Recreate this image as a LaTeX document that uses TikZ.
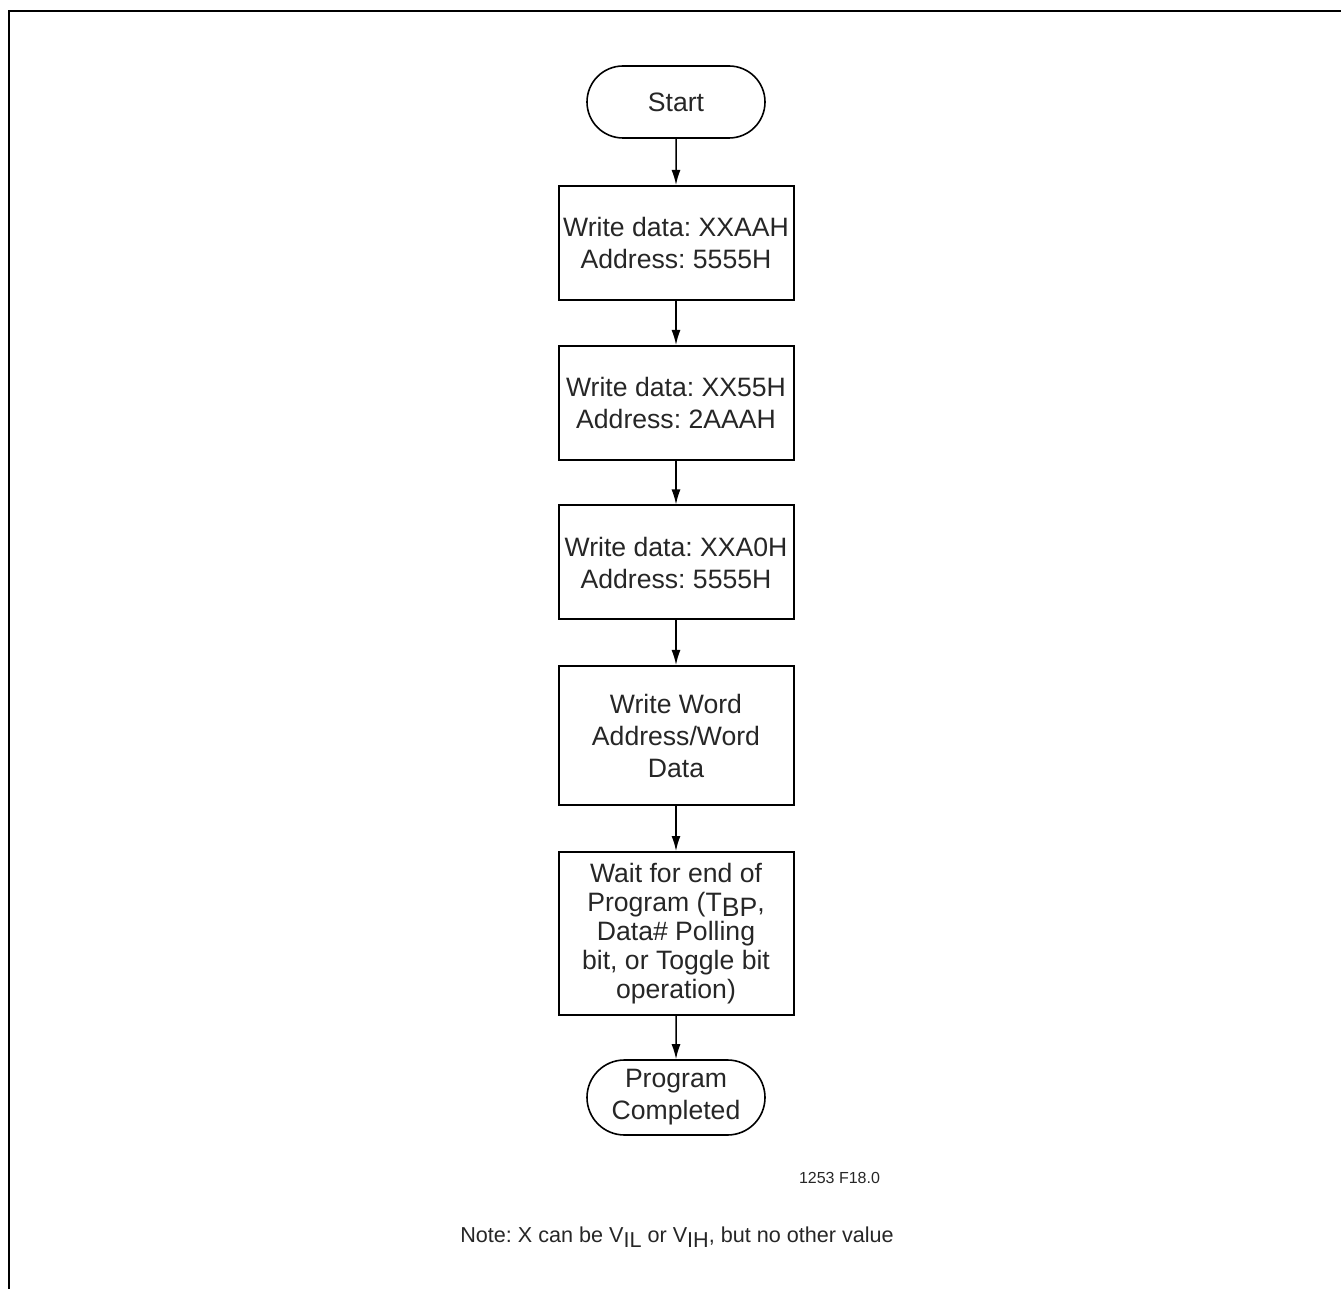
\documentclass[tikz,border=0pt]{standalone}
\usepackage{fontspec}
\setmainfont{Liberation Sans}
\usetikzlibrary{arrows.meta,shapes.misc}
\frenchspacing

\begin{document}
\begin{tikzpicture}[x=0.5pt, y=-0.5pt,
    every node/.style={font=\fontsize{13.3}{16}\selectfont, text=black!85},
    stepbox/.style={draw, line width=1pt, minimum width=117.5pt, align=center, inner sep=0pt},
    terminal/.style={draw, rounded rectangle, line width=0.8pt, minimum width=89pt, minimum height=36pt, align=center, inner sep=0pt},
    flow/.style={-{Latex[length=7.5pt,width=4.5pt]}, line width=0.75pt}]
    \useasboundingbox (0,0) rectangle (1341,1289);
    % Frame
    \draw[line width=1pt] (9,1289) -- (9,11) -- (1341,11);
    % Flow steps
    \node[terminal] (start) at (676,102) {Start};
    \node[stepbox, minimum height=57pt] (wrAA) at (676,243) {Write data: XXAAH\\Address: 5555H};
    \node[stepbox, minimum height=57pt] (wr55) at (676,403) {Write data: XX55H\\Address: 2AAAH};
    \node[stepbox, minimum height=57pt] (wrA0) at (676,562.5) {Write data: XXA0H\\Address: 5555H};
    \node[stepbox, minimum height=69.5pt] (wrword) at (676,735.5) {Write Word\\Address/Word\\Data};
    \node[stepbox, minimum height=81.5pt, font=\fontsize{13.3}{14.5}\selectfont] (wait) at (676,933.5)
        {Wait for end of\\Program (T\raisebox{-2.5pt}{BP},\\Data\# Polling\\bit, or Toggle bit\\operation)};
    \node[terminal, minimum height=37.5pt] (done) at (676,1097.5) {Program\\Completed};
    % Connectors
    \foreach \a/\b in {start/wrAA, wrAA/wr55, wr55/wrA0, wrA0/wrword, wrword/wait, wait/done}
        \draw[flow] (\a) -- (\b);
    % Figure id and note
    \node[anchor=base, font=\fontsize{8}{10}\selectfont] (figid) at (839.5,1183) {1253 F18.0};
    \node[anchor=base, font=\fontsize{10.8}{13}\selectfont] (note) at (677,1242)
        {Note: X can be V\raisebox{-2.5pt}{IL} or V\raisebox{-2.5pt}{IH}, but no other value};
\end{tikzpicture}
\end{document}
